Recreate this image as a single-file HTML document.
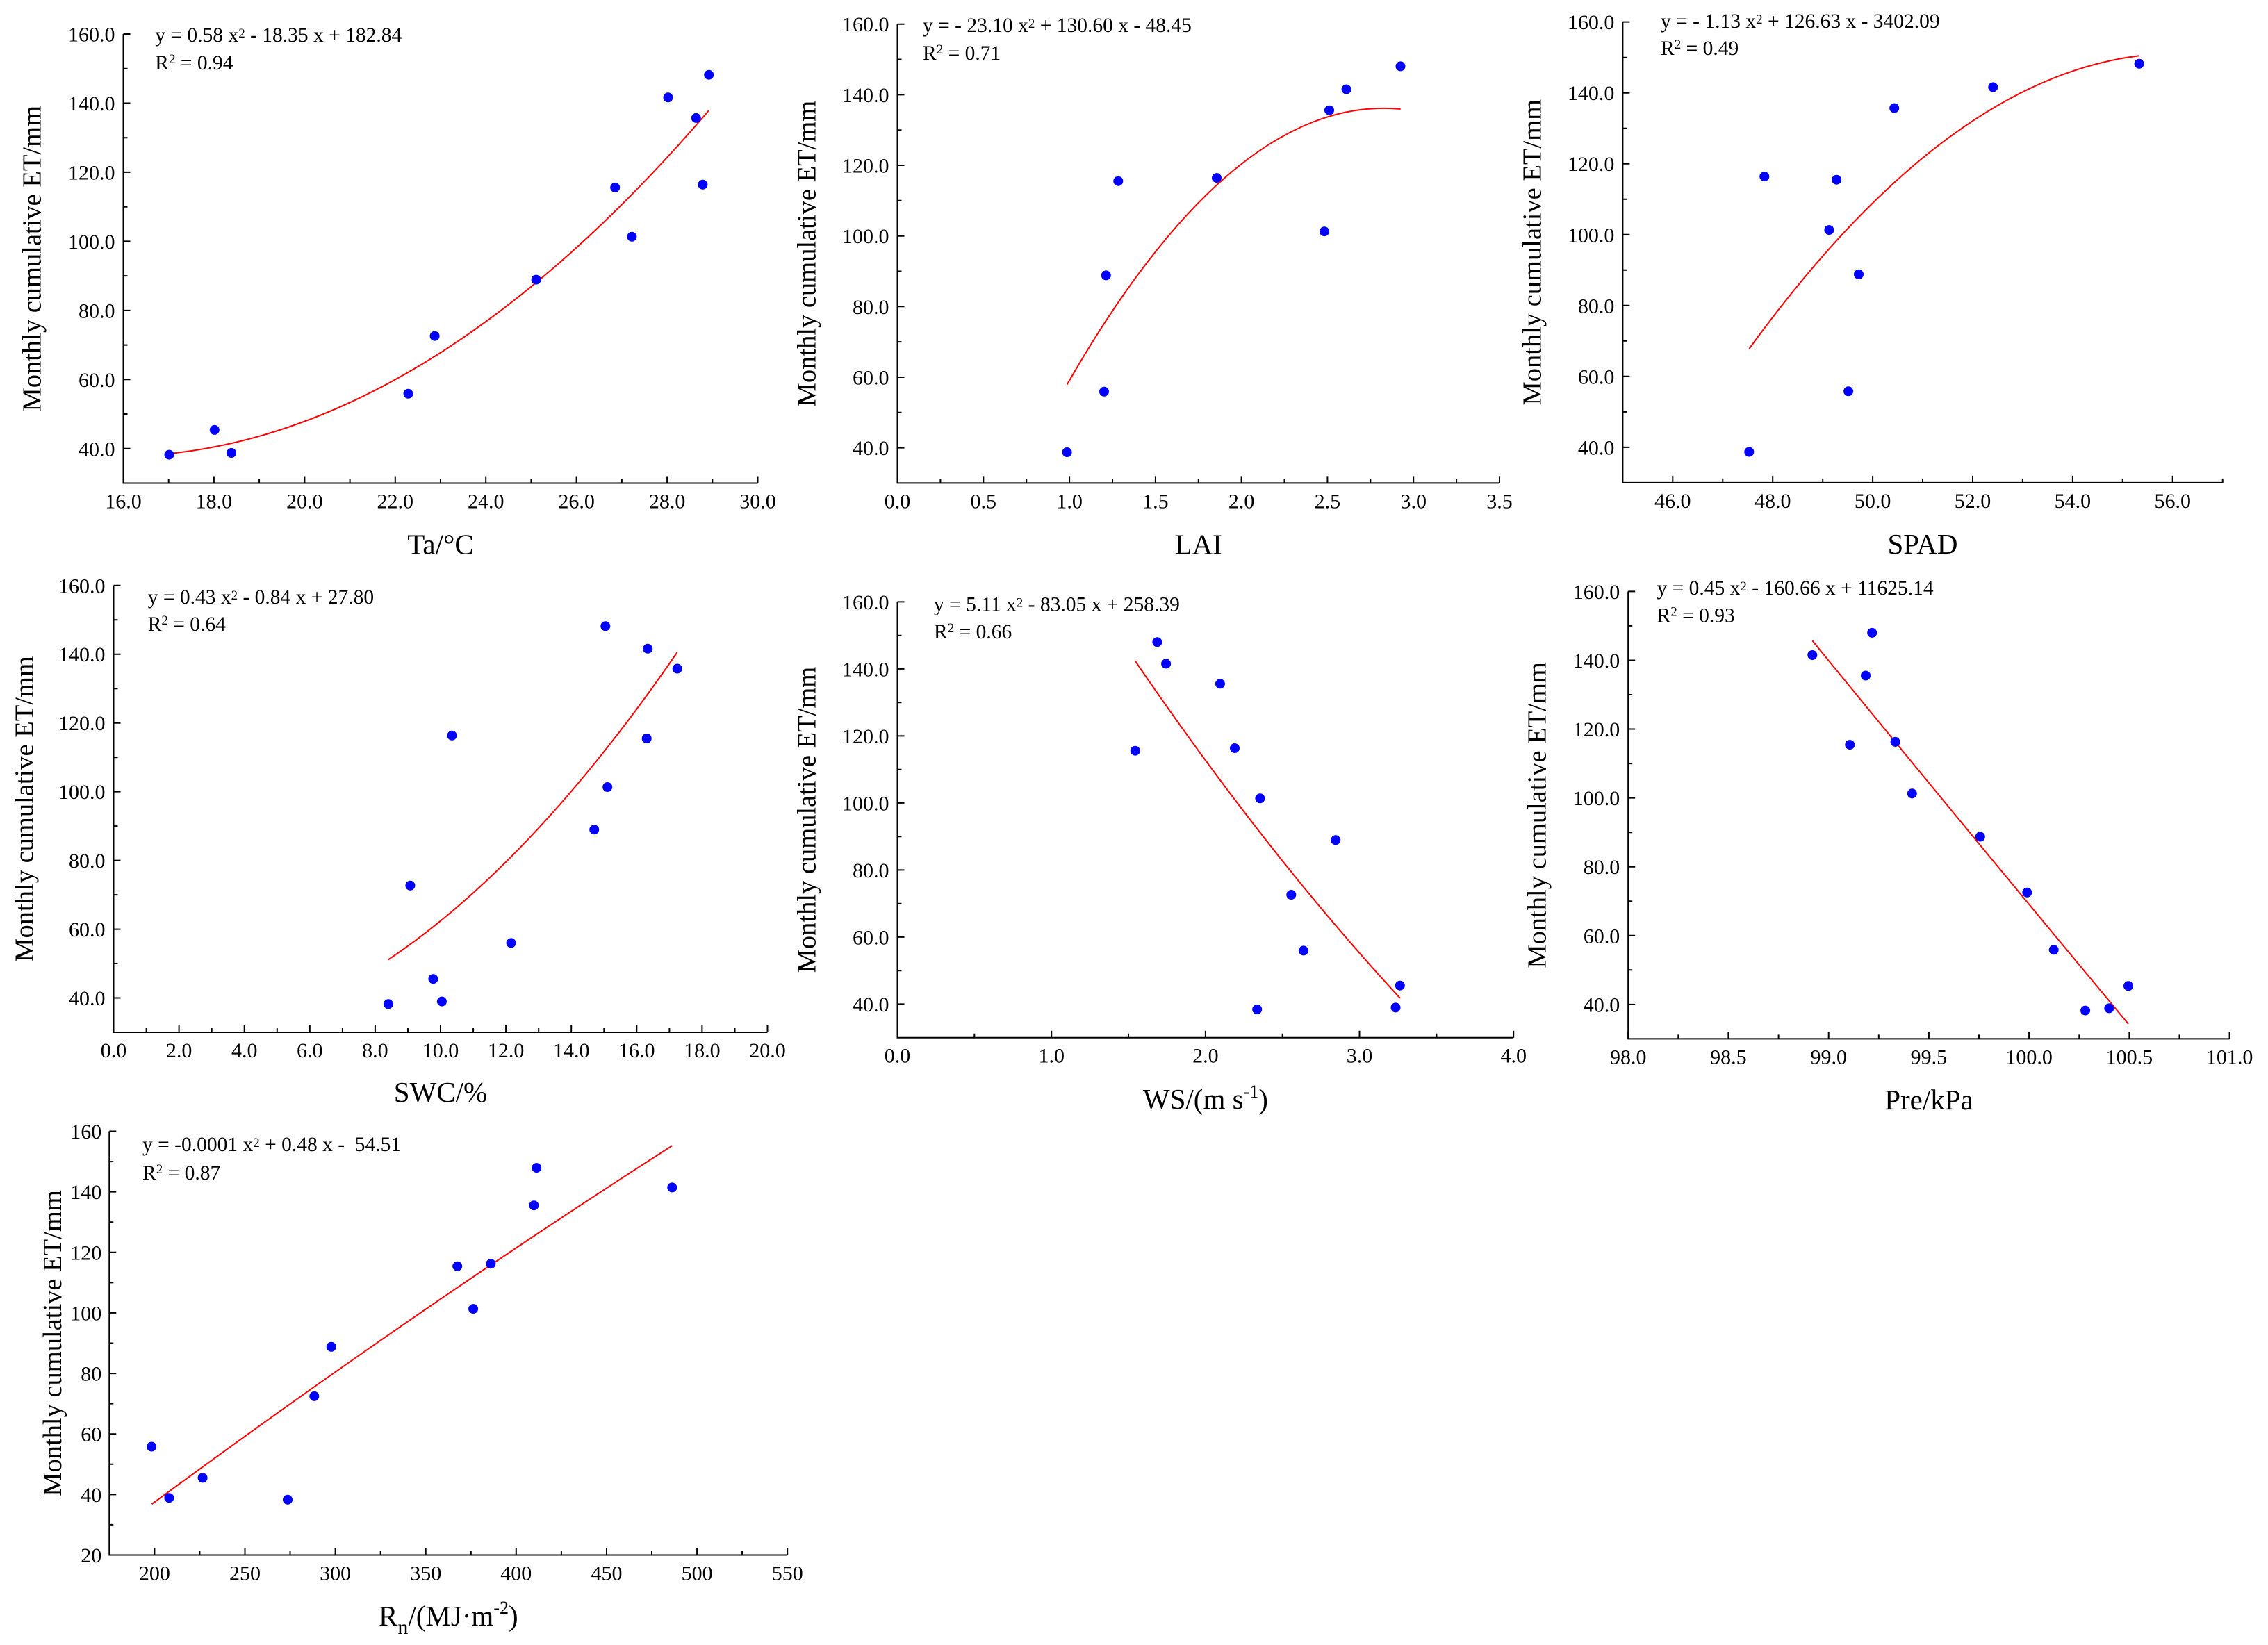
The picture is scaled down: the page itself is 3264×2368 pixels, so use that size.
<!DOCTYPE html>
<html>
<head>
<meta charset="utf-8">
<style>
html,body{margin:0;padding:0;background:#fff;}
svg{display:block;}
svg text{font-family:"Liberation Serif","Times New Roman",serif;}
</style>
</head>
<body>
<svg xmlns="http://www.w3.org/2000/svg" width="3264" height="2368" viewBox="0 0 3264 2368" font-family="'Liberation Serif','Times New Roman',serif" fill="#000">
<rect width="3264" height="2368" fill="#fff"/>

<!-- ================= PANEL 1 : Ta ================= -->
<g stroke="#000" stroke-width="2" fill="none">
<path d="M177.5 49V695.5H1090.5"/>
<path d="M177.5 695.5v-10M307.9 695.5v-10M438.4 695.5v-10M568.8 695.5v-10M699.2 695.5v-10M829.6 695.5v-10M960.1 695.5v-10M1090.5 695.5v-10
M177.5 645.8h10M177.5 546.3h10M177.5 446.9h10M177.5 347.4h10M177.5 247.9h10M177.5 148.5h10M177.5 49h10"/>
<path d="M242.7 695.5v-6M373.1 695.5v-6M503.6 695.5v-6M634 695.5v-6M764.4 695.5v-6M894.9 695.5v-6M1025.3 695.5v-6
M177.5 596h6M177.5 496.6h6M177.5 397.1h6M177.5 297.7h6M177.5 198.2h6M177.5 98.7h6"/>
</g>
<g font-size="30" text-anchor="middle">
<text x="177.5" y="731.5">16.0</text><text x="307.9" y="731.5">18.0</text><text x="438.4" y="731.5">20.0</text><text x="568.8" y="731.5">22.0</text><text x="699.2" y="731.5">24.0</text><text x="829.6" y="731.5">26.0</text><text x="960.1" y="731.5">28.0</text><text x="1090.5" y="731.5">30.0</text>
</g>
<g font-size="30" text-anchor="end">
<text x="165.5" y="656.3">40.0</text><text x="165.5" y="556.8">60.0</text><text x="165.5" y="457.4">80.0</text><text x="165.5" y="357.9">100.0</text><text x="165.5" y="258.4">120.0</text><text x="165.5" y="159">140.0</text><text x="165.5" y="59.5">160.0</text>
</g>
<text font-size="38.5" text-anchor="middle" transform="translate(58.5,372.25) rotate(-90)">Monthly cumulative ET/mm</text>
<text font-size="41" text-anchor="middle" x="634" y="797.5">Ta/°C</text>
<text font-size="29.5" x="223.3" y="60">y = 0.58 x<tspan font-size="19" dy="-6">2</tspan><tspan dy="6"> - 18.35 x + 182.84</tspan></text>
<text font-size="29.5" x="223.3" y="100">R<tspan font-size="19" dy="-9">2</tspan><tspan dy="9"> = 0.94</tspan></text>
<path d="M242.7 653.2Q631.4 612.5 1020.2 159" stroke="#f00" stroke-width="2" fill="none"/>
<g fill="#0000ff">
<circle cx="243.5" cy="654.6" r="7"/><circle cx="308.8" cy="618.9" r="7"/><circle cx="333" cy="652" r="7"/><circle cx="587.5" cy="566.8" r="7"/><circle cx="625.6" cy="483.7" r="7"/><circle cx="771.6" cy="402.6" r="7"/><circle cx="885.2" cy="269.9" r="7"/><circle cx="909.4" cy="340.8" r="7"/><circle cx="961.5" cy="140.3" r="7"/><circle cx="1001.8" cy="169.9" r="7"/><circle cx="1011.4" cy="265.8" r="7"/><circle cx="1020.2" cy="107.7" r="7"/>
</g>

<!-- ================= PANEL 2 : LAI ================= -->
<g stroke="#000" stroke-width="2" fill="none">
<path d="M1291.5 34.7V695.4H2158"/>
<path d="M1291.5 695.4v-10M1415.3 695.4v-10M1539.1 695.4v-10M1662.9 695.4v-10M1786.6 695.4v-10M1910.4 695.4v-10M2034.2 695.4v-10M2158 695.4v-10
M1291.5 644.6h10M1291.5 543h10M1291.5 441.3h10M1291.5 339.7h10M1291.5 238h10M1291.5 136.4h10M1291.5 34.7h10"/>
<path d="M1353.4 695.4v-6M1477.2 695.4v-6M1601 695.4v-6M1724.8 695.4v-6M1848.5 695.4v-6M1972.3 695.4v-6M2096.1 695.4v-6
M1291.5 593.8h6M1291.5 492.1h6M1291.5 390.5h6M1291.5 288.8h6M1291.5 187.2h6M1291.5 85.5h6"/>
</g>
<g font-size="30" text-anchor="middle">
<text x="1291.5" y="731.4">0.0</text><text x="1415.3" y="731.4">0.5</text><text x="1539.1" y="731.4">1.0</text><text x="1662.9" y="731.4">1.5</text><text x="1786.6" y="731.4">2.0</text><text x="1910.4" y="731.4">2.5</text><text x="2034.2" y="731.4">3.0</text><text x="2158" y="731.4">3.5</text>
</g>
<g font-size="30" text-anchor="end">
<text x="1279.5" y="655.1">40.0</text><text x="1279.5" y="553.5">60.0</text><text x="1279.5" y="451.8">80.0</text><text x="1279.5" y="350.2">100.0</text><text x="1279.5" y="248.5">120.0</text><text x="1279.5" y="146.9">140.0</text><text x="1279.5" y="45.2">160.0</text>
</g>
<text font-size="38.5" text-anchor="middle" transform="translate(1173.7,365.05) rotate(-90)">Monthly cumulative ET/mm</text>
<text font-size="41" text-anchor="middle" x="1724.7" y="797.4">LAI</text>
<text font-size="29.5" x="1328" y="46">y = - 23.10 x<tspan font-size="19" dy="-6">2</tspan><tspan dy="6"> + 130.60 x - 48.45</tspan></text>
<text font-size="29.5" x="1328" y="86">R<tspan font-size="19" dy="-9">2</tspan><tspan dy="9"> = 0.71</tspan></text>
<path d="M1535.6 553.6Q1775.6 134.5 2015.6 157" stroke="#f00" stroke-width="2" fill="none"/>
<g fill="#0000ff">
<circle cx="1535.6" cy="651" r="7"/><circle cx="1589" cy="563.8" r="7"/><circle cx="1591.8" cy="396.4" r="7"/><circle cx="1609.3" cy="260.7" r="7"/><circle cx="1751" cy="256.1" r="7"/><circle cx="1906" cy="333.2" r="7"/><circle cx="1913" cy="158.7" r="7"/><circle cx="1937.6" cy="128.6" r="7"/><circle cx="2015.5" cy="95.4" r="7"/>
</g>

<!-- ================= PANEL 3 : SPAD ================= -->
<g stroke="#000" stroke-width="2" fill="none">
<path d="M2335.4 31.6V694.9H3198.7"/>
<path d="M2407.3 694.9v-10M2551.2 694.9v-10M2695.1 694.9v-10M2839 694.9v-10M2982.9 694.9v-10M3126.7 694.9v-10
M2335.4 643.9h10M2335.4 541.8h10M2335.4 439.8h10M2335.4 337.8h10M2335.4 235.7h10M2335.4 133.7h10M2335.4 31.6h10"/>
<path d="M2479.3 694.9v-6M2623.2 694.9v-6M2767 694.9v-6M2910.9 694.9v-6M3054.8 694.9v-6M3198.7 694.9v-6
M2335.4 592.9h6M2335.4 490.8h6M2335.4 388.8h6M2335.4 286.7h6M2335.4 184.7h6M2335.4 82.7h6"/>
</g>
<g font-size="30" text-anchor="middle">
<text x="2407.3" y="730.9">46.0</text><text x="2551.2" y="730.9">48.0</text><text x="2695.1" y="730.9">50.0</text><text x="2839" y="730.9">52.0</text><text x="2982.9" y="730.9">54.0</text><text x="3126.7" y="730.9">56.0</text>
</g>
<g font-size="30" text-anchor="end">
<text x="2323.4" y="654.4">40.0</text><text x="2323.4" y="552.3">60.0</text><text x="2323.4" y="450.3">80.0</text><text x="2323.4" y="348.3">100.0</text><text x="2323.4" y="246.2">120.0</text><text x="2323.4" y="144.2">140.0</text><text x="2323.4" y="42.1">160.0</text>
</g>
<text font-size="38.5" text-anchor="middle" transform="translate(2217.5,363.25) rotate(-90)">Monthly cumulative ET/mm</text>
<text font-size="41" text-anchor="middle" x="2767" y="797">SPAD</text>
<text font-size="29.5" x="2390" y="40">y = - 1.13 x<tspan font-size="19" dy="-6">2</tspan><tspan dy="6"> + 126.63 x - 3402.09</tspan></text>
<text font-size="29.5" x="2390" y="79">R<tspan font-size="19" dy="-9">2</tspan><tspan dy="9"> = 0.49</tspan></text>
<path d="M2517.4 502Q2798 115 3078.5 80.2" stroke="#f00" stroke-width="2" fill="none"/>
<g fill="#0000ff">
<circle cx="2517.3" cy="650.5" r="7"/><circle cx="2539.3" cy="254.1" r="7"/><circle cx="2632.4" cy="331.1" r="7"/><circle cx="2643.1" cy="258.7" r="7"/><circle cx="2660.1" cy="563.3" r="7"/><circle cx="2675" cy="394.9" r="7"/><circle cx="2726.2" cy="155.6" r="7"/><circle cx="2868.3" cy="125.5" r="7"/><circle cx="3078.6" cy="91.8" r="7"/>
</g>

<!-- ================= PANEL 4 : SWC ================= -->
<g stroke="#000" stroke-width="2" fill="none">
<path d="M163.5 842.8V1486H1104.5"/>
<path d="M163.5 1486v-10M257.6 1486v-10M351.7 1486v-10M445.8 1486v-10M539.9 1486v-10M634 1486v-10M728.1 1486v-10M822.2 1486v-10M916.3 1486v-10M1010.4 1486v-10M1104.5 1486v-10
M163.5 1436.5h10M163.5 1337.6h10M163.5 1238.6h10M163.5 1139.6h10M163.5 1040.7h10M163.5 941.7h10M163.5 842.8h10"/>
<path d="M210.6 1486v-6M304.7 1486v-6M398.8 1486v-6M492.9 1486v-6M587 1486v-6M681.1 1486v-6M775.2 1486v-6M869.3 1486v-6M963.4 1486v-6M1057.5 1486v-6
M163.5 1387h6M163.5 1288.1h6M163.5 1189.1h6M163.5 1090.2h6M163.5 991.2h6M163.5 892.2h6"/>
</g>
<g font-size="30" text-anchor="middle">
<text x="163.5" y="1522">0.0</text><text x="257.6" y="1522">2.0</text><text x="351.7" y="1522">4.0</text><text x="445.8" y="1522">6.0</text><text x="539.9" y="1522">8.0</text><text x="634" y="1522">10.0</text><text x="728.1" y="1522">12.0</text><text x="822.2" y="1522">14.0</text><text x="916.3" y="1522">16.0</text><text x="1010.4" y="1522">18.0</text><text x="1104.5" y="1522">20.0</text>
</g>
<g font-size="30" text-anchor="end">
<text x="151.5" y="1447">40.0</text><text x="151.5" y="1348.1">60.0</text><text x="151.5" y="1249.1">80.0</text><text x="151.5" y="1150.1">100.0</text><text x="151.5" y="1051.2">120.0</text><text x="151.5" y="952.2">140.0</text><text x="151.5" y="853.3">160.0</text>
</g>
<text font-size="38.5" text-anchor="middle" transform="translate(47.7,1164.4) rotate(-90)">Monthly cumulative ET/mm</text>
<text font-size="41" text-anchor="middle" x="634" y="1586">SWC/%</text>
<text font-size="29.5" x="212.7" y="869">y = 0.43 x<tspan font-size="19" dy="-6">2</tspan><tspan dy="6"> - 0.84 x + 27.80</tspan></text>
<text font-size="29.5" x="212.7" y="908">R<tspan font-size="19" dy="-9">2</tspan><tspan dy="9"> = 0.64</tspan></text>
<path d="M558.7 1381.6Q766.7 1242 974.6 939" stroke="#f00" stroke-width="2" fill="none"/>
<g fill="#0000ff">
<circle cx="558.9" cy="1445.3" r="7"/><circle cx="590.4" cy="1274.8" r="7"/><circle cx="623.4" cy="1409.2" r="7"/><circle cx="635.9" cy="1441.6" r="7"/><circle cx="650.5" cy="1058.8" r="7"/><circle cx="735.6" cy="1357.4" r="7"/><circle cx="855.2" cy="1194.2" r="7"/><circle cx="871.3" cy="901.3" r="7"/><circle cx="874.2" cy="1133" r="7"/><circle cx="930.7" cy="1063" r="7"/><circle cx="932.2" cy="933.8" r="7"/><circle cx="974.7" cy="962.5" r="7"/>
</g>

<!-- ================= PANEL 5 : WS ================= -->
<g stroke="#000" stroke-width="2" fill="none">
<path d="M1291.5 866.4V1493.7H2178.2"/>
<path d="M1291.5 1493.7v-10M1513.2 1493.7v-10M1734.9 1493.7v-10M1956.5 1493.7v-10M2178.2 1493.7v-10
M1291.5 1445.4h10M1291.5 1348.9h10M1291.5 1252.4h10M1291.5 1155.9h10M1291.5 1059.4h10M1291.5 962.9h10M1291.5 866.4h10"/>
<path d="M1402.3 1493.7v-6M1624 1493.7v-6M1845.7 1493.7v-6M2067.4 1493.7v-6
M1291.5 1397.2h6M1291.5 1300.7h6M1291.5 1204.2h6M1291.5 1107.7h6M1291.5 1011.2h6M1291.5 914.7h6"/>
</g>
<g font-size="30" text-anchor="middle">
<text x="1291.5" y="1529.7">0.0</text><text x="1513.2" y="1529.7">1.0</text><text x="1734.9" y="1529.7">2.0</text><text x="1956.5" y="1529.7">3.0</text><text x="2178.2" y="1529.7">4.0</text>
</g>
<g font-size="30" text-anchor="end">
<text x="1279.5" y="1455.9">40.0</text><text x="1279.5" y="1359.4">60.0</text><text x="1279.5" y="1262.9">80.0</text><text x="1279.5" y="1166.4">100.0</text><text x="1279.5" y="1069.9">120.0</text><text x="1279.5" y="973.4">140.0</text><text x="1279.5" y="876.9">160.0</text>
</g>
<text font-size="38.5" text-anchor="middle" transform="translate(1173.7,1180.05) rotate(-90)">Monthly cumulative ET/mm</text>
<text font-size="41" text-anchor="middle" x="1734.9" y="1596">WS/(m s<tspan font-size="26" dy="-16">-1</tspan><tspan dy="16">)</tspan></text>
<text font-size="29.5" x="1344" y="879.3">y = 5.11 x<tspan font-size="19" dy="-6">2</tspan><tspan dy="6"> - 83.05 x + 258.39</tspan></text>
<text font-size="29.5" x="1344" y="919">R<tspan font-size="19" dy="-9">2</tspan><tspan dy="9"> = 0.66</tspan></text>
<path d="M1633.8 951.6Q1824.3 1230.6 2014.9 1436.8" stroke="#f00" stroke-width="2" fill="none"/>
<g fill="#0000ff">
<circle cx="1633.8" cy="1080.7" r="7"/><circle cx="1665.4" cy="924.3" r="7"/><circle cx="1678.1" cy="955.4" r="7"/><circle cx="1755.9" cy="984.3" r="7"/><circle cx="1777" cy="1077" r="7"/><circle cx="1813.4" cy="1149.3" r="7"/><circle cx="1809.2" cy="1453" r="7"/><circle cx="1858.3" cy="1288" r="7"/><circle cx="1875.9" cy="1368.4" r="7"/><circle cx="1922.2" cy="1209.3" r="7"/><circle cx="2008.5" cy="1450.4" r="7"/><circle cx="2014.8" cy="1418.7" r="7"/>
</g>

<!-- ================= PANEL 6 : Pre ================= -->
<g stroke="#000" stroke-width="2" fill="none">
<path d="M2343.2 851.4V1495.4H3208.6"/>
<path d="M2343.2 1495.4v-10M2487.4 1495.4v-10M2631.7 1495.4v-10M2775.9 1495.4v-10M2920.1 1495.4v-10M3064.4 1495.4v-10M3208.6 1495.4v-10
M2343.2 1445.9h10M2343.2 1346.8h10M2343.2 1247.7h10M2343.2 1148.6h10M2343.2 1049.5h10M2343.2 950.5h10M2343.2 851.4h10"/>
<path d="M2415.3 1495.4v-6M2559.6 1495.4v-6M2703.8 1495.4v-6M2848 1495.4v-6M2992.3 1495.4v-6M3136.5 1495.4v-6
M2343.2 1396.3h6M2343.2 1297.2h6M2343.2 1198.2h6M2343.2 1099.1h6M2343.2 1000h6M2343.2 900.9h6"/>
</g>
<g font-size="30" text-anchor="middle">
<text x="2343.2" y="1531.4">98.0</text><text x="2487.4" y="1531.4">98.5</text><text x="2631.7" y="1531.4">99.0</text><text x="2775.9" y="1531.4">99.5</text><text x="2920.1" y="1531.4">100.0</text><text x="3064.4" y="1531.4">100.5</text><text x="3208.6" y="1531.4">101.0</text>
</g>
<g font-size="30" text-anchor="end">
<text x="2331.2" y="1456.4">40.0</text><text x="2331.2" y="1357.3">60.0</text><text x="2331.2" y="1258.2">80.0</text><text x="2331.2" y="1159.1">100.0</text><text x="2331.2" y="1060">120.0</text><text x="2331.2" y="961">140.0</text><text x="2331.2" y="861.9">160.0</text>
</g>
<text font-size="38.5" text-anchor="middle" transform="translate(2224.6,1173.4) rotate(-90)">Monthly cumulative ET/mm</text>
<text font-size="41" text-anchor="middle" x="2776" y="1597">Pre/kPa</text>
<text font-size="29.5" x="2384.5" y="856">y = 0.45 x<tspan font-size="19" dy="-6">2</tspan><tspan dy="6"> - 160.66 x + 11625.14</tspan></text>
<text font-size="29.5" x="2384.5" y="895.4">R<tspan font-size="19" dy="-9">2</tspan><tspan dy="9"> = 0.93</tspan></text>
<path d="M2608.3 922.2Q2835.7 1201 3063 1473.9" stroke="#f00" stroke-width="2" fill="none"/>
<g fill="#0000ff">
<circle cx="2608.3" cy="943" r="7"/><circle cx="2662.3" cy="1072.1" r="7"/><circle cx="2685" cy="972.5" r="7"/><circle cx="2694.2" cy="910.9" r="7"/><circle cx="2727.6" cy="1067.9" r="7"/><circle cx="2751.8" cy="1142.3" r="7"/><circle cx="2849.8" cy="1204.5" r="7"/><circle cx="2917.3" cy="1284.8" r="7"/><circle cx="2955.7" cy="1367.3" r="7"/><circle cx="3001.1" cy="1454.6" r="7"/><circle cx="3035.3" cy="1451.4" r="7"/><circle cx="3063" cy="1419.3" r="7"/>
</g>

<!-- ================= PANEL 7 : Rn ================= -->
<g stroke="#000" stroke-width="2" fill="none">
<path d="M157.3 1628.5V2238.5H1133.2"/>
<path d="M222.4 2238.5v-10M352.5 2238.5v-10M482.6 2238.5v-10M612.7 2238.5v-10M742.8 2238.5v-10M873 2238.5v-10M1003.1 2238.5v-10M1133.2 2238.5v-10
M157.3 2151.4h10M157.3 2064.2h10M157.3 1977.1h10M157.3 1889.9h10M157.3 1802.8h10M157.3 1715.6h10M157.3 1628.5h10"/>
<path d="M287.4 2238.5v-6M417.5 2238.5v-6M547.7 2238.5v-6M677.8 2238.5v-6M807.9 2238.5v-6M938 2238.5v-6M1068.1 2238.5v-6
M157.3 2194.9h6M157.3 2107.8h6M157.3 2020.6h6M157.3 1933.5h6M157.3 1846.4h6M157.3 1759.2h6M157.3 1672.1h6"/>
</g>
<g font-size="30" text-anchor="middle">
<text x="222.4" y="2274.5">200</text><text x="352.5" y="2274.5">250</text><text x="482.6" y="2274.5">300</text><text x="612.7" y="2274.5">350</text><text x="742.8" y="2274.5">400</text><text x="873" y="2274.5">450</text><text x="1003.1" y="2274.5">500</text><text x="1133.2" y="2274.5">550</text>
</g>
<g font-size="30" text-anchor="end">
<text x="146.3" y="2249">20</text><text x="146.3" y="2161.9">40</text><text x="146.3" y="2074.7">60</text><text x="146.3" y="1987.6">80</text><text x="146.3" y="1900.4">100</text><text x="146.3" y="1813.3">120</text><text x="146.3" y="1726.1">140</text><text x="146.3" y="1639">160</text>
</g>
<text font-size="38.5" text-anchor="middle" transform="translate(88,1933.5) rotate(-90)">Monthly cumulative ET/mm</text>
<text font-size="41" text-anchor="middle" x="645.3" y="2340">R<tspan font-size="30" dy="12">n</tspan><tspan dy="-12">/(MJ·m</tspan><tspan font-size="26" dy="-17">-2</tspan><tspan dy="17">)</tspan></text>
<text font-size="29.5" x="205" y="1657">y = -0.0001 x<tspan font-size="19" dy="-6">2</tspan><tspan dy="6"> + 0.48 x -&#160; 54.51</tspan></text>
<text font-size="29.5" x="205" y="1698">R<tspan font-size="19" dy="-9">2</tspan><tspan dy="9"> = 0.87</tspan></text>
<path d="M218.5 2165.2Q593 1889.1 967.4 1649.2" stroke="#f00" stroke-width="2" fill="none"/>
<g fill="#0000ff">
<circle cx="218.1" cy="2082.5" r="7"/><circle cx="243.4" cy="2156.2" r="7"/><circle cx="291.6" cy="2127.4" r="7"/><circle cx="414" cy="2158.8" r="7"/><circle cx="452.3" cy="2009.9" r="7"/><circle cx="476.8" cy="1938.8" r="7"/><circle cx="658.2" cy="1822.8" r="7"/><circle cx="681.1" cy="1884.1" r="7"/><circle cx="706.4" cy="1819.2" r="7"/><circle cx="768.4" cy="1735.2" r="7"/><circle cx="772.2" cy="1681.1" r="7"/><circle cx="967.3" cy="1709.4" r="7"/>
</g>
</svg>
</body>
</html>
